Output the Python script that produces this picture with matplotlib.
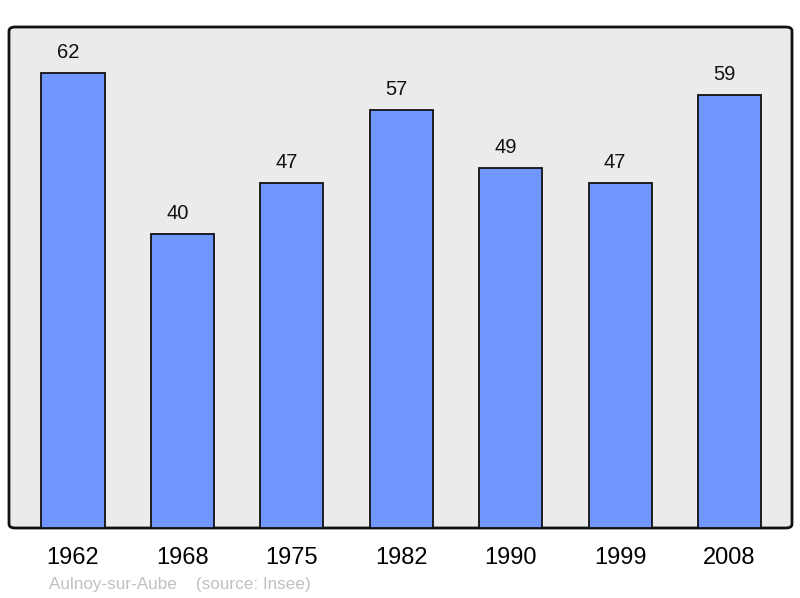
import matplotlib.pyplot as plt
from matplotlib.patches import FancyBboxPatch

years = ['1962', '1968', '1975', '1982', '1990', '1999', '2008']
population = [62, 40, 47, 57, 49, 47, 59]

plt.rcParams['font.family'] = ['Liberation Sans', 'DejaVu Sans']

fig = plt.figure(figsize=(8, 5.98), dpi=100)
ax = fig.add_axes([9 / 800, 70 / 598, 783 / 800, 501 / 598])
ax.set_facecolor('none')
for s in ax.spines.values():
    s.set_visible(False)

# rounded frame behind everything
frame = FancyBboxPatch((0, 0), 1, 1, boxstyle='round,pad=0,rounding_size=0.008',
                       transform=ax.transAxes, facecolor='#ebebeb', edgecolor='#111111',
                       linewidth=2, zorder=0, clip_on=False)
ax.add_patch(frame)

x = list(range(len(years)))
ax.bar(x, population, width=0.576, color='#7096ff', edgecolor='#111111', linewidth=1.3, zorder=2)
for xi, v in zip(x, population):
    ax.text(xi - 0.046, v + 2.8, str(v), ha='center', va='center', fontsize=14.5, color='#111111')

ax.set_xlim(-0.585, 6.571)
ax.set_ylim(0, 68.26)
ax.set_yticks([])
ax.set_xticks(x)
ax.set_xticklabels(years, fontsize=17)
ax.tick_params(axis='x', length=0, pad=14)

fig.text(49 / 800, 1 - 584 / 598, 'Aulnoy-sur-Aube    (source: Insee)', fontsize=12.3,
         color='#c0c0c0', ha='left', va='center')

fig.savefig('out.png', dpi=100)
